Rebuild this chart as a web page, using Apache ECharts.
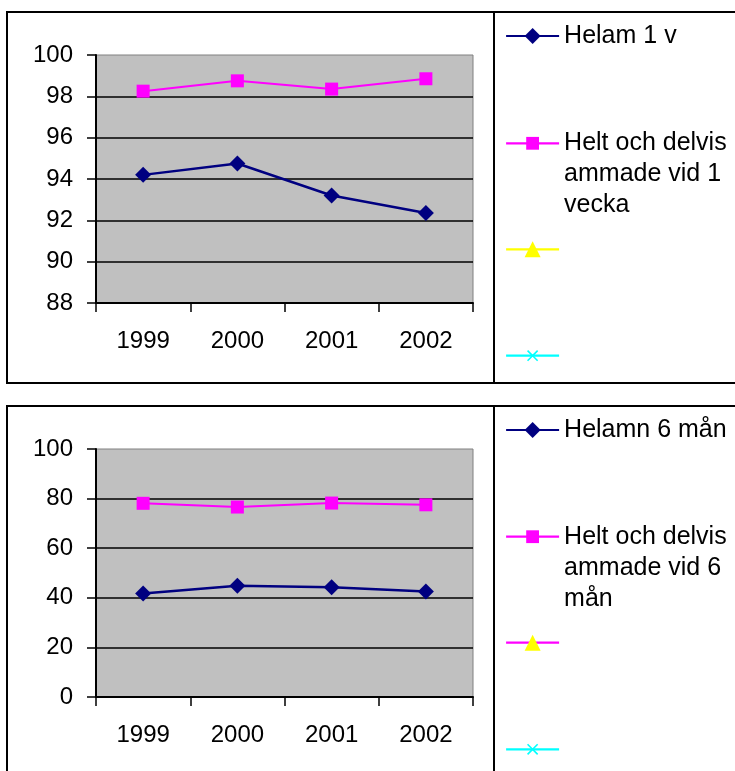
<!DOCTYPE html>
<html><head><meta charset="utf-8">
<script src="https://cdn.jsdelivr.net/npm/echarts/dist/echarts.min.js"></script>
<style>html,body{margin:0;padding:0;background:#fff}#c{width:735px;height:771px}</style>
</head><body><div id="c"></div>
<script>
const years = ['1999', '2000', '2001', '2002'];
const helam1v = [94.2, 94.75, 93.2, 92.35];
const heltDelvis1v = [98.25, 98.75, 98.35, 98.85];
const helamn6m = [41.7, 44.9, 44.3, 42.5];
const heltDelvis6m = [78.1, 76.6, 78.2, 77.5];
const topNames = ['Helam 1 v', 'Helt och delvis\nammade vid 1\nvecka', 'serie3a', 'serie4a'];
const botNames = ['Helamn 6 mån', 'Helt och delvis\nammade vid 6\nmån', 'serie3b', 'serie4b'];

const F = '"Liberation Sans", Arial, sans-serif';
const LH = 31;
const NAVY = '#000080', MAG = '#ff00ff', YEL = '#ffff00', CYAN = '#00ffff';
const XPATH = 'path://M1,0L5,4L9,0L10,1L6,5L10,9L9,10L5,6L1,10L0,9L4,5L0,1Z';

function yAxis(gi, min, max, interval) {
  return {
    type: 'value', gridIndex: gi, min: min, max: max, interval: interval,
    axisLine: { show: true, lineStyle: { color: '#000', width: 2 } },
    axisTick: { show: true, length: 9, lineStyle: { color: '#000', width: 1.5 } },
    axisLabel: { fontSize: 24, color: '#000', margin: 23, fontFamily: F },
    splitLine: { show: true, showMaxLine: false, lineStyle: { color: '#000', width: 1.5 } }
  };
}
function xAxis(gi) {
  return {
    type: 'category', gridIndex: gi, data: years, boundaryGap: true,
    axisLine: { show: true, onZero: false, lineStyle: { color: '#000', width: 2 } },
    axisTick: { show: true, length: 9, lineStyle: { color: '#000', width: 1.5 } },
    axisLabel: { fontSize: 24, color: '#000', margin: 26, fontFamily: F }
  };
}
// lines: number of text lines; the icon sits beside the first line
function leg(name, cy, lines, iconH, blank) {
  const padLines = lines - 1;
  const total = (lines + padLines) * LH;
  const prefix = new Array(padLines + 1).join('\n');
  return {
    show: true, data: [name], left: 505, top: cy - total / 2, padding: 0,
    itemWidth: 53, itemHeight: iconH, selectedMode: false,
    lineStyle: { width: 2.2 },
    formatter: blank ? function () { return ' '; } : function (n) { return prefix + n; },
    textStyle: { fontSize: 25, lineHeight: LH, color: '#000', fontFamily: F }
  };
}
function line(name, gi, data, symbol, size, lineColor, symColor, width) {
  return {
    type: 'line', name: name, xAxisIndex: gi, yAxisIndex: gi, data: data,
    symbol: symbol, symbolSize: size, showSymbol: true,
    lineStyle: { color: lineColor, width: width },
    itemStyle: { color: symColor },
    emphasis: { disabled: true }
  };
}

const option = {
  animation: false,
  backgroundColor: '#fff',
  grid: [
    { left: 96, top: 55, width: 377, height: 248, show: true, backgroundColor: '#c0c0c0', borderColor: '#808080', borderWidth: 1 },
    { left: 96, top: 449, width: 377, height: 248, show: true, backgroundColor: '#c0c0c0', borderColor: '#808080', borderWidth: 1 }
  ],
  xAxis: [xAxis(0), xAxis(1)],
  yAxis: [yAxis(0, 88, 100, 2), yAxis(1, 0, 100, 20)],
  legend: [
    leg(topNames[0], 36, 1, 20, false),
    leg(topNames[1], 143.3, 3, 16, false),
    leg(topNames[2], 249.3, 1, 20, true),
    leg(topNames[3], 355.7, 1, 14, true),
    leg(botNames[0], 430, 1, 20, false),
    leg(botNames[1], 536.7, 3, 16, false),
    leg(botNames[2], 642.7, 1, 20, true),
    leg(botNames[3], 749.3, 1, 14, true)
  ],
  series: [
    line(topNames[0], 0, helam1v, 'diamond', 16, NAVY, NAVY, 2.5),
    line(topNames[1], 0, heltDelvis1v, 'rect', 13, MAG, MAG, 2),
    line(topNames[2], 0, [], 'triangle', 14, YEL, YEL, 2),
    line(topNames[3], 0, [], XPATH, 10, CYAN, CYAN, 2),
    line(botNames[0], 1, helamn6m, 'diamond', 16, NAVY, NAVY, 2.5),
    line(botNames[1], 1, heltDelvis6m, 'rect', 13, MAG, MAG, 2),
    line(botNames[2], 1, [], 'triangle', 14, MAG, YEL, 2),
    line(botNames[3], 1, [], XPATH, 10, CYAN, CYAN, 2)
  ],
  graphic: [
    { type: 'rect', shape: { x: 7, y: 12, width: 800, height: 371 }, style: { fill: 'none', stroke: '#000', lineWidth: 2 } },
    { type: 'line', shape: { x1: 494, y1: 12, x2: 494, y2: 383 }, style: { stroke: '#000', lineWidth: 2 } },
    { type: 'rect', shape: { x: 7, y: 406, width: 800, height: 420 }, style: { fill: 'none', stroke: '#000', lineWidth: 2 } },
    { type: 'line', shape: { x1: 494, y1: 406, x2: 494, y2: 771 }, style: { stroke: '#000', lineWidth: 2 } }
  ]
};
const chart = echarts.init(document.getElementById('c'), null, { renderer: 'canvas' });
chart.setOption(option);
</script>
</body></html>
